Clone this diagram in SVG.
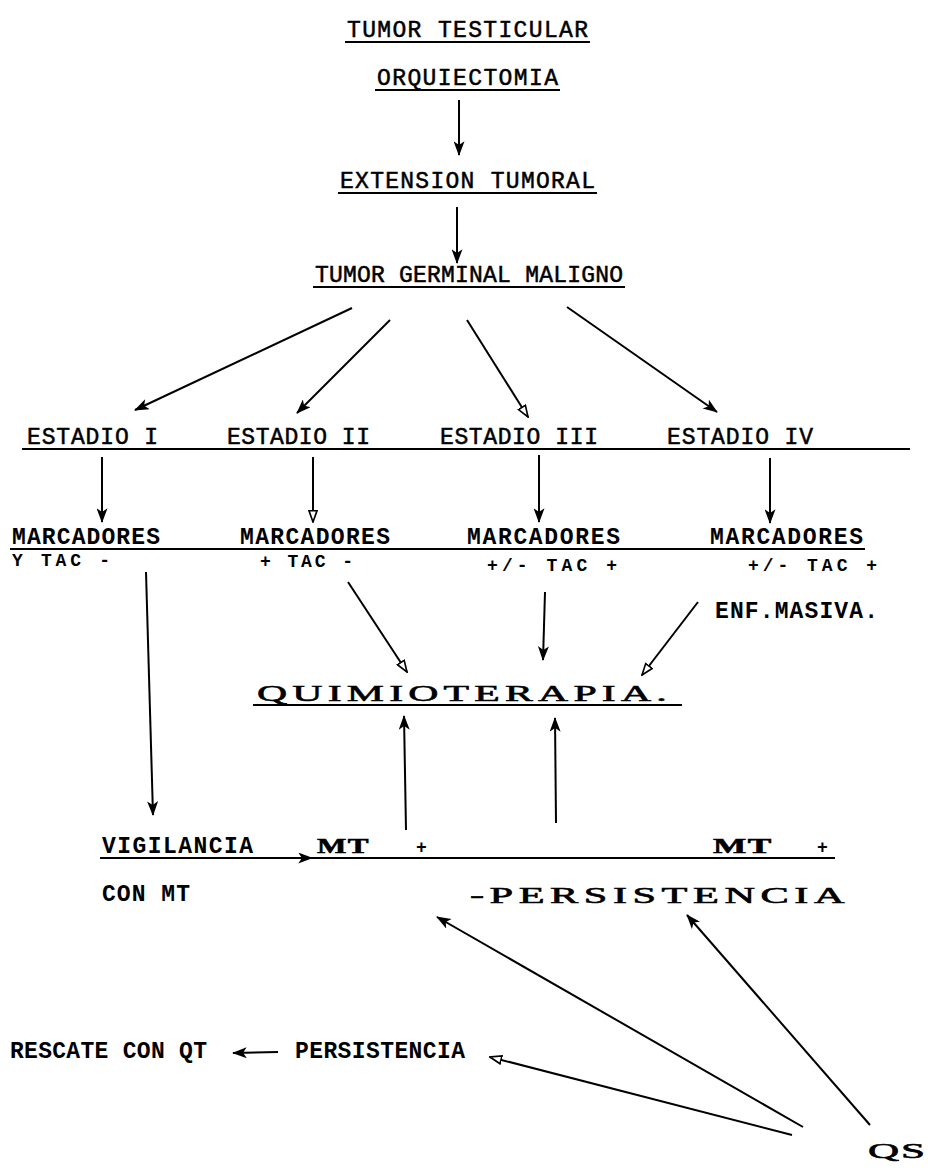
<svg xmlns="http://www.w3.org/2000/svg" width="933" height="1173" viewBox="0 0 933 1173">
<defs>
<style>
.tw{font-family:"Liberation Mono","DejaVu Sans Mono",monospace;font-size:23px;fill:#000;stroke:#000;stroke-width:0.5}
.twb{font-family:"Liberation Mono","DejaVu Sans Mono",monospace;font-size:23px;font-weight:bold;fill:#000}
.tws{font-family:"Liberation Mono","DejaVu Sans Mono",monospace;font-size:18px;font-weight:bold;fill:#000}
.wide{font-family:"Liberation Serif","DejaVu Serif",serif;font-size:22px;fill:#000;stroke:#000;stroke-width:0.6;letter-spacing:3px}
.ln{stroke:#000;stroke-width:2;fill:none}
.ul{stroke:#000;stroke-width:2.2;fill:none}
.af{marker-end:url(#hf)}
.ao{marker-end:url(#ho)}
</style>
<marker id="hf" viewBox="0 0 16 12" refX="15" refY="6" markerWidth="15" markerHeight="11" markerUnits="userSpaceOnUse" orient="auto">
<path d="M0,0 L16,6 L0,12 L4,6 Z" fill="#000"/>
</marker>
<marker id="ho" viewBox="0 0 16 12" refX="15" refY="6" markerWidth="13" markerHeight="10" markerUnits="userSpaceOnUse" orient="auto">
<path d="M1,1 L15,6 L1,11 Z" fill="#fff" stroke="#000" stroke-width="2"/>
</marker>
</defs>
<rect width="933" height="1173" fill="#fff"/>

<g id="n-tumor-testicular">
<text class="tw" x="347" y="37" textLength="241">TUMOR TESTICULAR</text>
<line class="ul" x1="345" y1="42" x2="590" y2="42"/>
</g>
<g id="n-orquiectomia">
<text class="tw" x="377" y="85" textLength="181">ORQUIECTOMIA</text>
<line class="ul" x1="375" y1="90" x2="560" y2="90"/>
</g>
<g id="n-extension">
<text class="tw" x="340" y="188" textLength="255">EXTENSION TUMORAL</text>
<line class="ul" x1="338" y1="193" x2="597" y2="193"/>
</g>
<g id="n-germinal">
<text class="tw" x="315" y="282" textLength="308">TUMOR GERMINAL MALIGNO</text>
<line class="ul" x1="313" y1="287" x2="625" y2="287"/>
</g>

<g id="n-estadios">
<text class="tw" x="27" y="444" textLength="131">ESTADIO I</text>
<text class="tw" x="227" y="444" textLength="143">ESTADIO II</text>
<text class="tw" x="440" y="444" textLength="158">ESTADIO III</text>
<text class="tw" x="667" y="444" textLength="146">ESTADIO IV</text>
<line class="ul" x1="22" y1="449" x2="910" y2="449"/>
</g>

<g id="n-marcadores">
<text class="twb" x="12" y="544" textLength="148">MARCADORES</text>
<text class="twb" x="240" y="544" textLength="150">MARCADORES</text>
<text class="twb" x="467" y="544" textLength="153">MARCADORES</text>
<text class="twb" x="710" y="544" textLength="153">MARCADORES</text>
<line class="ul" x1="10" y1="549" x2="865" y2="549"/>
<text class="tws" x="12" y="566" textLength="98">Y TAC -</text>
<text class="tws" x="260" y="567" textLength="93">+ TAC -</text>
<text class="tws" x="487" y="571" textLength="130">+/- TAC +</text>
<text class="tws" x="748" y="571" textLength="129">+/- TAC +</text>
</g>

<g id="n-enf-masiva">
<text class="twb" x="715" y="618" textLength="163">ENF.MASIVA.</text>
</g>

<g id="n-quimioterapia">
<text class="wide" x="257" y="701" textLength="415" lengthAdjust="spacingAndGlyphs" style="font-size:24px">QUIMIOTERAPIA.</text>
<line class="ul" x1="253" y1="705" x2="682" y2="705"/>
</g>

<g id="n-vigilancia">
<text class="twb" x="102" y="853" textLength="151">VIGILANCIA</text>
<line class="ul" x1="100" y1="858" x2="835" y2="858"/>
<text class="wide" x="317" y="853" textLength="53" lengthAdjust="spacingAndGlyphs" style="font-weight:bold;letter-spacing:1px">MT</text>
<text class="tws" x="416" y="853">+</text>
<text class="wide" x="713" y="853" textLength="60" lengthAdjust="spacingAndGlyphs" style="font-weight:bold;letter-spacing:1px">MT</text>
<text class="tws" x="817" y="853">+</text>
</g>

<g id="n-con-mt">
<text class="twb" x="102" y="901" textLength="88">CON MT</text>
</g>

<g id="n-persistencia-mt">
<text class="wide" x="470" y="903" textLength="380" lengthAdjust="spacingAndGlyphs" style="font-size:23px">-PERSISTENCIA</text>
</g>

<g id="n-rescate">
<text class="twb" x="10" y="1058" textLength="197">RESCATE CON QT</text>
</g>
<g id="n-persistencia">
<text class="twb" x="295" y="1058" textLength="170">PERSISTENCIA</text>
</g>
<g id="n-qs">
<text class="wide" x="868" y="1158" textLength="59" lengthAdjust="spacingAndGlyphs" style="letter-spacing:1px">QS</text>
</g>

<g id="connectors">
<line class="ln af" x1="459" y1="100" x2="459" y2="155"/>
<line class="ln af" x1="457" y1="207" x2="457" y2="263"/>
<line class="ln af" x1="352" y1="308" x2="135" y2="410"/>
<line class="ln af" x1="390" y1="320" x2="297" y2="413"/>
<line class="ln ao" x1="467" y1="320" x2="528" y2="417"/>
<line class="ln af" x1="567" y1="307" x2="717" y2="412"/>
<line class="ln af" x1="102" y1="457" x2="102" y2="522"/>
<line class="ln ao" x1="313" y1="457" x2="313" y2="522"/>
<line class="ln af" x1="539" y1="455" x2="539" y2="522"/>
<line class="ln af" x1="770" y1="458" x2="770" y2="523"/>
<line class="ln af" x1="146" y1="572" x2="153" y2="815"/>
<line class="ln ao" x1="348" y1="582" x2="407" y2="672"/>
<line class="ln af" x1="545" y1="592" x2="543" y2="660"/>
<line class="ln ao" x1="698" y1="602" x2="642" y2="675"/>
<line class="ln af" x1="406" y1="830" x2="404" y2="716"/>
<line class="ln af" x1="556" y1="823" x2="555" y2="718"/>
<line class="ln af" x1="280" y1="858" x2="312" y2="858"/>
<line class="ln af" x1="803" y1="1127" x2="437" y2="917"/>
<line class="ln af" x1="870" y1="1125" x2="687" y2="915"/>
<line class="ln ao" x1="792" y1="1135" x2="490" y2="1057"/>
<line class="ln af" x1="278" y1="1052" x2="233" y2="1053"/>
</g>
</svg>
